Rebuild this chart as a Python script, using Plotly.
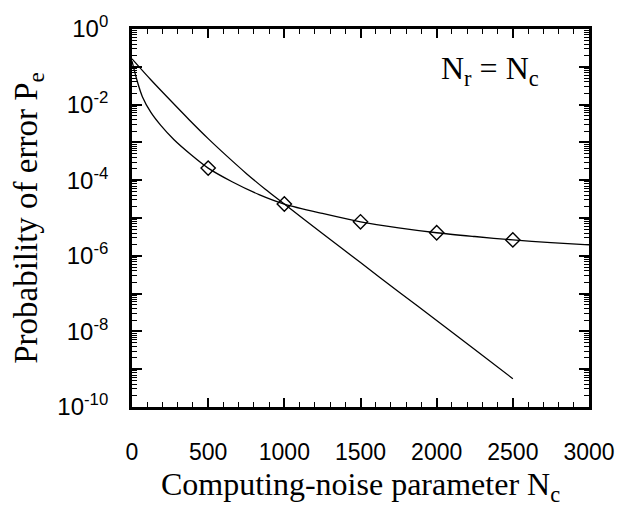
import plotly.graph_objects as go

# Curve without markers (steep exponential decay)
nc_steep = [0, 125, 250, 375, 500, 625, 750, 875, 1000, 1250, 1500, 1750, 2000, 2250, 2500]
log_pe_steep = [-0.79, -1.35, -1.88, -2.40, -2.90, -3.37, -3.82, -4.24, -4.63, -5.41, -6.18,
                -6.95, -7.71, -8.48, -9.25]

# Curve with diamond markers
nc_diam = [0, 35, 68, 123, 189, 276, 386, 500, 657, 834, 1000, 1250, 1500, 1750, 2000, 2250, 2500, 2750, 3000]
log_pe_diam = [-0.85, -1.39, -1.79, -2.20, -2.55, -2.93, -3.32, -3.68, -4.04, -4.38, -4.63, -4.88,
               -5.10, -5.26, -5.39, -5.49, -5.58, -5.65, -5.71]

marker_nc = [500, 1000, 1500, 2000, 2500]
marker_log_pe = [-3.68, -4.63, -5.10, -5.39, -5.58]

pe_steep = [10 ** v for v in log_pe_steep]
pe_diam = [10 ** v for v in log_pe_diam]
pe_mark = [10 ** v for v in marker_log_pe]

decades = list(range(-10, 1))
ytick_vals = [10 ** d for d in decades]
ytick_text = [("10<sup>%d</sup>" % d if d == 0 else "10<sup>-%d</sup>" % (-d)) if d % 2 == 0 else ""
              for d in decades]
yminor_vals = [m * 10 ** d for d in range(-10, 0) for m in range(2, 10)]

xtick_vals = list(range(0, 3001, 500))
xminor_vals = [v for v in range(0, 3001, 100) if v % 500 != 0]

fig = go.Figure()
fig.add_trace(go.Scatter(x=nc_steep, y=pe_steep, mode="lines",
                         line=dict(color="black", width=1.3, shape="spline", smoothing=0.8),
                         showlegend=False))
fig.add_trace(go.Scatter(x=nc_diam, y=pe_diam, mode="lines",
                         line=dict(color="black", width=1.3, shape="spline", smoothing=0.8),
                         showlegend=False))
fig.add_trace(go.Scatter(x=marker_nc, y=pe_mark, mode="markers",
                         marker=dict(symbol="diamond-open", size=11, color="black",
                                     line=dict(width=1.4, color="black")),
                         showlegend=False))

fig.add_annotation(x=0.895, y=0.89, xref="paper", yref="paper",
                   text="N<sub>r</sub> = N<sub>c</sub>", showarrow=False,
                   xanchor="right", yanchor="middle",
                   font=dict(family="Liberation Serif", size=32, color="black"))

fig.update_xaxes(
    range=[0, 3000], tickvals=xtick_vals, ticktext=[str(v) for v in xtick_vals],
    ticks="inside", ticklen=9, tickwidth=1.5, tickcolor="black",
    minor=dict(tickvals=xminor_vals, ticks="inside", ticklen=5, tickwidth=1.3, tickcolor="black"),
    showline=True, linewidth=2.8, linecolor="black", mirror="allticks",
    showgrid=False, zeroline=False,
    tickfont=dict(family="Liberation Sans", size=23, color="black"),
    ticklabelstandoff=22,
    title=dict(text="Computing-noise parameter N<sub>c</sub>", standoff=10,
               font=dict(family="Liberation Serif", size=32, color="black")),
)
fig.update_yaxes(
    type="log", range=[-10, 0], tickvals=ytick_vals, ticktext=ytick_text,
    ticks="inside", ticklen=10, tickwidth=1.5, tickcolor="black",
    minor=dict(tickvals=yminor_vals, ticks="inside", ticklen=5, tickwidth=1.3, tickcolor="black"),
    showline=True, linewidth=2.8, linecolor="black", mirror="allticks",
    showgrid=False, zeroline=False,
    tickfont=dict(family="Liberation Sans", size=24, color="black"),
    ticklabelstandoff=16,
    title=dict(text="Probability of error P<sub>e</sub>", standoff=10,
               font=dict(family="Liberation Serif", size=33, color="black")),
)

fig.update_layout(
    width=627, height=512,
    margin=dict(l=132, r=38, t=27, b=105),
    paper_bgcolor="white", plot_bgcolor="white",
)

fig.write_html("out.html")
